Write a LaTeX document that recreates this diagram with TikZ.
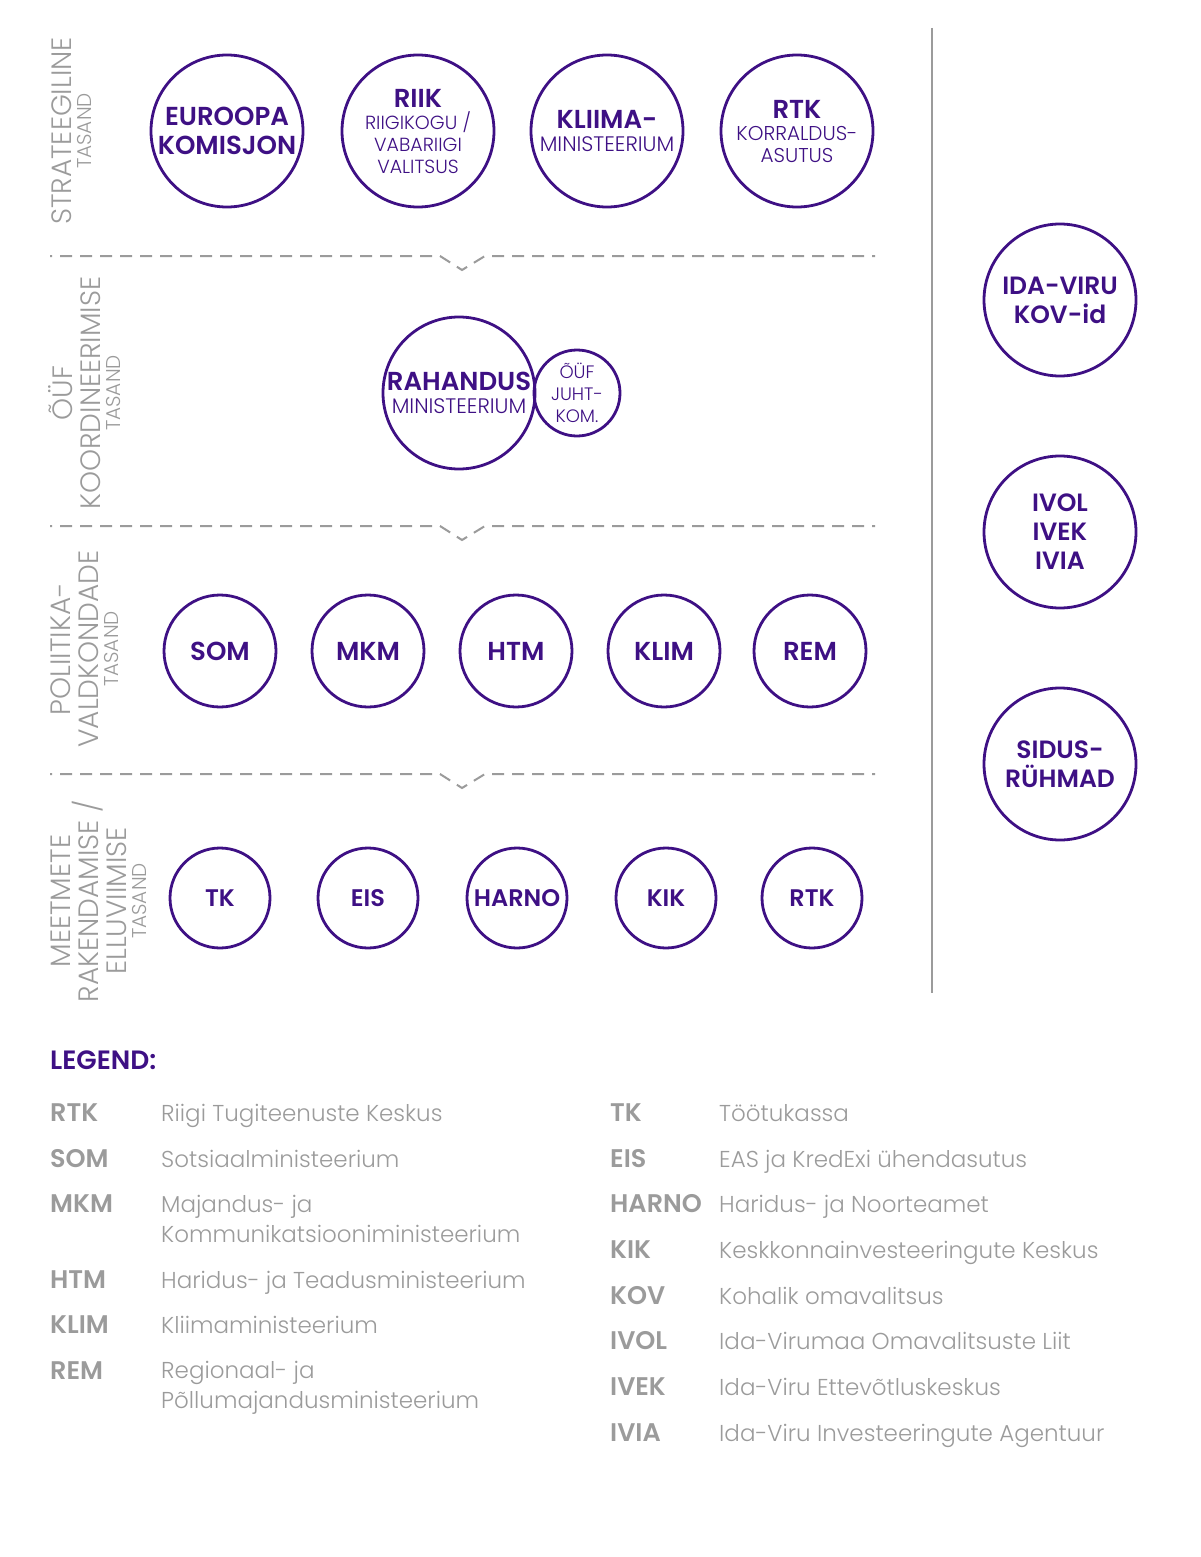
\documentclass[tikz,border=0pt]{standalone}
\usepackage{fontspec}
\setmainfont{Poppins}
\IfFontExistsTF{Poppins Light}{\newfontfamily\lightfont{Poppins Light}}{\newfontfamily\lightfont{Poppins}}
\IfFontExistsTF{Poppins SemiBold}{\newfontfamily\semifont{Poppins SemiBold}}{\newfontfamily\semifont{Poppins}[UprightFont=*Bold]}
\definecolor{lilla}{RGB}{62,16,132}
\definecolor{hall}{RGB}{155,155,155}

\begin{document}
\begin{tikzpicture}[x=1pt,y=-1pt]

    \tikzset{
      ring/.style={
        circle,
        draw=lilla,
        line width=2.8pt,
        inner sep=-40pt,
        text=lilla,
        align=center,
      },
      big/.style={font=\semifont\fontsize{26}{29}\selectfont},
      small/.style={font=\lightfont\fontsize{19}{22}\selectfont},
      level/.style={rotate=90, align=center, text=hall, font=\lightfont\fontsize{28}{28}\selectfont},
      sep/.style={draw=hall, line width=2pt, dash pattern=on 12pt off 8pt, dash phase=10pt},
      abbr/.style={anchor=base west, inner sep=0pt, text=hall, font=\semifont\fontsize{25.5}{30}\selectfont},
      expl/.style={anchor=base west, inner sep=0pt, text=hall, align=left, font=\lightfont\fontsize{23}{30}\selectfont},
    }
    \newcommand{\sub}{\lightfont\fontsize{19}{22}\selectfont}
    \newcommand{\subb}{\lightfont\fontsize{21}{22}\selectfont}
    \newcommand{\tasand}{\fontsize{20}{20}\selectfont}
    \useasboundingbox (0,0) rectangle (1200,1557);

	\draw[hall, line width=2.2pt] (932,28)--(932,993);
	\draw[sep] (50,256)--(440,256)--(462,270)--(485,256)--(875,256);
	\draw[sep] (50,526)--(440,526)--(462,540)--(485,526)--(875,526);
	\draw[sep] (50,774)--(440,774)--(462,788)--(485,774)--(875,774);

	\node[level] (lvl1) at (72,131) {STRATEEGILINE\\[-8pt]{\tasand TASAND}};
	\node[level] (lvl2) at (85,393) {ÕÜF\\KOORDINEERIMISE\\[-8pt]{\tasand TASAND}};
	\node[level] (lvl3) at (85,649) {POLIITIKA-\\VALDKONDADE\\[-8pt]{\tasand TASAND}};
	\node[level] (lvl4) at (99,901) {MEETMETE\\RAKENDAMISE /\\ELLUVIIMISE\\[-8pt]{\tasand TASAND}};

	\node[ring, big, minimum size=152pt] (ek) at (227,131) {EUROOPA\\KOMISJON};
	\node[ring, big, minimum size=152pt] (riik) at (418,131) {RIIK\\[-7pt]{\sub RIIGIKOGU /}\\[-7pt]{\sub VABARIIGI}\\[-7pt]{\sub VALITSUS}};
	\node[ring, big, minimum size=152pt] (kliima) at (607,131) {KLIIMA-\\[-6pt]{\subb MINISTEERIUM}};
	\node[ring, big, minimum size=152pt] (rtkk) at (797,131) {RTK\\[-7pt]{\lightfont\fontsize{20}{22}\selectfont KORRALDUS-}\\[-7pt]{\lightfont\fontsize{20}{22}\selectfont ASUTUS}};

	\node[ring, big, minimum size=152pt] (rm) at (459,393) {RAHANDUS\\[-6pt]{\subb MINISTEERIUM}};
	\node[ring, small, minimum size=86pt, font=\lightfont\fontsize{18}{22}\selectfont] (juht) at (577,393) {ÕÜF\\JUHT-\\KOM.};

	\node[ring, big, minimum size=112pt] (som) at (220,651) {SOM};
	\node[ring, big, minimum size=112pt] (mkm) at (368,651) {MKM};
	\node[ring, big, minimum size=112pt] (htm) at (516,651) {HTM};
	\node[ring, big, minimum size=112pt] (klim) at (664,651) {KLIM};
	\node[ring, big, minimum size=112pt] (rem) at (810,651) {REM};

	\node[ring, big, minimum size=100pt, font=\semifont\fontsize{24}{29}\selectfont] (tk) at (220,898) {TK};
	\node[ring, big, minimum size=100pt, font=\semifont\fontsize{24}{29}\selectfont] (eis) at (368,898) {EIS};
	\node[ring, big, minimum size=100pt, font=\semifont\fontsize{24}{29}\selectfont] (harno) at (517,898) {HARNO};
	\node[ring, big, minimum size=100pt, font=\semifont\fontsize{24}{29}\selectfont] (kik) at (666,898) {KIK};
	\node[ring, big, minimum size=100pt, font=\semifont\fontsize{24}{29}\selectfont] (rtk) at (812,898) {RTK};

	\node[ring, big, minimum size=152pt, font=\semifont\fontsize{25}{29}\selectfont] (kov) at (1060,300) {IDA-VIRU\\KOV-id};
	\node[ring, big, minimum size=152pt, font=\semifont\fontsize{25}{29}\selectfont] (ivol) at (1060,532) {IVOL\\IVEK\\IVIA};
	\node[ring, big, minimum size=152pt, font=\semifont\fontsize{25}{29}\selectfont] (sidus) at (1060,764) {SIDUS-\\RÜHMAD};

	\node[abbr, text=lilla, font=\semifont\fontsize{26.5}{30}\selectfont] (legend) at (50,1069) {LEGEND:};

	\node[abbr] (a1) at (50,1121) {RTK};
	\node[expl] (e1) at (161,1121) {Riigi Tugiteenuste Keskus};
	\node[abbr] (a2) at (50,1167) {SOM};
	\node[expl] (e2) at (161,1167) {Sotsiaalministeerium};
	\node[abbr] (a3) at (50,1212) {MKM};
	\node[expl] (e3) at (161,1242) {Majandus- ja\\Kommunikatsiooniministeerium};
	\node[abbr] (a4) at (50,1288) {HTM};
	\node[expl] (e4) at (161,1288) {Haridus- ja Teadusministeerium};
	\node[abbr] (a5) at (50,1333) {KLIM};
	\node[expl] (e5) at (161,1333) {Kliimaministeerium};
	\node[abbr] (a6) at (50,1379) {REM};
	\node[expl] (e6) at (161,1408) {Regionaal- ja\\Põllumajandusministeerium};

	\node[abbr] (b1) at (610,1121) {TK};
	\node[expl] (f1) at (719,1121) {Töötukassa};
	\node[abbr] (b2) at (610,1167) {EIS};
	\node[expl] (f2) at (719,1167) {EAS ja KredExi ühendasutus};
	\node[abbr] (b3) at (610,1212) {HARNO};
	\node[expl] (f3) at (719,1212) {Haridus- ja Noorteamet};
	\node[abbr] (b4) at (610,1258) {KIK};
	\node[expl] (f4) at (719,1258) {Keskkonnainvesteeringute Keskus};
	\node[abbr] (b5) at (610,1304) {KOV};
	\node[expl] (f5) at (719,1304) {Kohalik omavalitsus};
	\node[abbr] (b6) at (610,1349) {IVOL};
	\node[expl] (f6) at (719,1349) {Ida-Virumaa Omavalitsuste Liit};
	\node[abbr] (b7) at (610,1395) {IVEK};
	\node[expl] (f7) at (719,1395) {Ida-Viru Ettevõtluskeskus};
	\node[abbr] (b8) at (610,1441) {IVIA};
	\node[expl] (f8) at (719,1441) {Ida-Viru Investeeringute Agentuur};

\end{tikzpicture}
\end{document}
